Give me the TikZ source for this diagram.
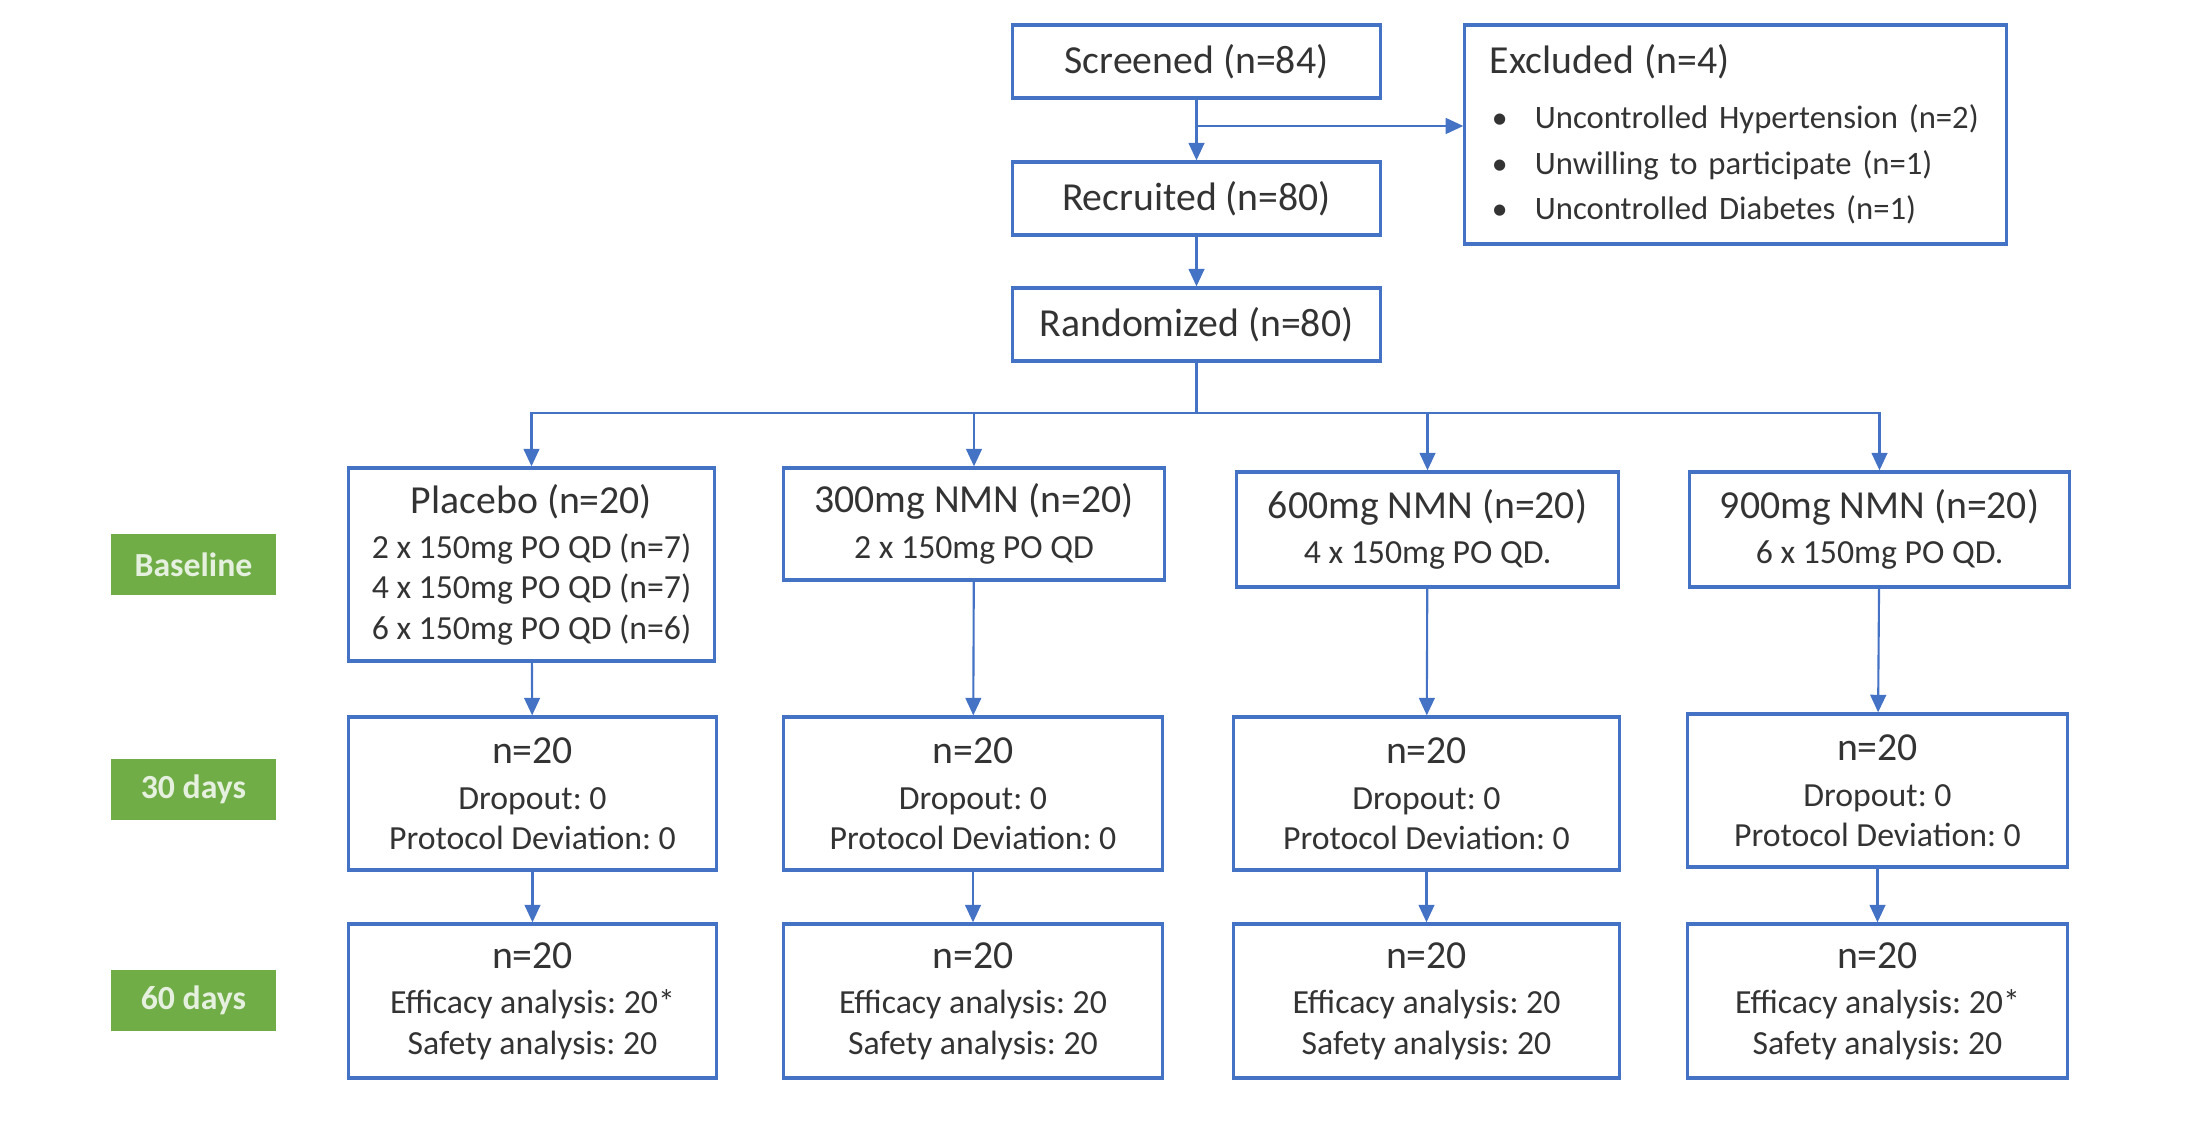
\documentclass[tikz,border=0pt]{standalone}
\usepackage{fontspec}
\setmainfont{Carlito}
\usetikzlibrary{arrows.meta}
\definecolor{boxblue}{HTML}{4472C4}
\definecolor{stagegreen}{HTML}{70AD47}
\definecolor{txtgray}{HTML}{333333}
\newcommand{\hd}{\fontsize{11.3}{13.5}\selectfont}
\newcommand{\sm}{\fontsize{9.6}{11.4}\selectfont}
\frenchspacing

\begin{document}
\begin{tikzpicture}[x=0.01cm,y=-0.01cm,
  box/.style={draw=boxblue,line width=0.9pt,text=txtgray,align=center,inner sep=0pt,font=\sm},
  stage/.style={fill=stagegreen,text=white!82!stagegreen,font=\sm\bfseries,minimum width=1.65cm,minimum height=0.61cm,inner sep=0pt},
  arr/.style={draw=boxblue,line width=0.6pt,-{Triangle[width=4.5pt,length=5pt]}},
  link/.style={draw=boxblue,line width=0.6pt}]
\useasboundingbox (0,0) rectangle (2196,1131);
% enrolment
\node[box,minimum width=3.67cm,minimum height=0.73cm,font=\hd] (scr) at (1196.5,61.5) {Screened (n=84)};
\node[box,minimum width=3.67cm,minimum height=0.73cm,font=\hd] (rec) at (1196.5,198.5) {Recruited (n=80)};
\node[box,minimum width=3.67cm,minimum height=0.73cm,font=\hd] (ran) at (1196.5,324.5) {Randomized (n=80)};
\node[box,minimum width=5.41cm,minimum height=2.19cm,text width=5.27cm,inner xsep=0.07cm,align=left,font=\fontsize{9.3}{13}\selectfont] (exc) at (1735.5,134.5)
  {\hspace{0.18cm}{\hd Excluded (n=4)}\\[2.5pt]
   \hspace{0.2cm}\makebox[0.43cm][l]{\small\textbullet}Uncontrolled Hypertension (n=2)\\
   \hspace{0.2cm}\makebox[0.43cm][l]{\small\textbullet}Unwilling to participate (n=1)\\
   \hspace{0.2cm}\makebox[0.43cm][l]{\small\textbullet}Uncontrolled Diabetes (n=1)};
\coordinate (brk) at (1196.5,126);
\coordinate (spl) at (1196.5,413);

% stages
\node[stage] (base) at (193.5,564.5) {Baseline};
\node[stage] (d30) at (193.5,789.5) {30 days};
\node[stage] (d60) at (193.5,1000.5) {60 days};

% baseline arms
\node[box,minimum width=3.65cm,minimum height=1.93cm] (pl1) at (531.5,564.5)
  {{\hd Placebo (n=20)}\\[1.6pt]2 x 150mg PO QD (n=7)\\4 x 150mg PO QD (n=7)\\6 x 150mg PO QD (n=6)};
\node[box,minimum width=3.80cm,minimum height=1.12cm] (m3a) at (974,524)
  {{\hd 300mg NMN (n=20)}\\[1.6pt]2 x 150mg PO QD};
\node[box,minimum width=3.81cm,minimum height=1.15cm] (m6a) at (1427.5,529.5)
  {{\hd 600mg NMN (n=20)}\\[1.6pt]4 x 150mg PO QD.};
\node[box,minimum width=3.79cm,minimum height=1.15cm] (m9a) at (1879.5,529.5)
  {{\hd 900mg NMN (n=20)}\\[1.6pt]6 x 150mg PO QD.};

% 30 days
\node[box,minimum width=3.67cm,minimum height=1.53cm] (pl2) at (532.5,793.5)
  {{\hd n=20}\\[1.6pt]Dropout: 0\\Protocol Deviation: 0};
\node[box,minimum width=3.78cm,minimum height=1.53cm] (m3b) at (973,793.5)
  {{\hd n=20}\\[1.6pt]Dropout: 0\\Protocol Deviation: 0};
\node[box,minimum width=3.85cm,minimum height=1.53cm] (m6b) at (1426.5,793.5)
  {{\hd n=20}\\[1.6pt]Dropout: 0\\Protocol Deviation: 0};
\node[box,minimum width=3.79cm,minimum height=1.53cm] (m9b) at (1877.5,790.5)
  {{\hd n=20}\\[1.6pt]Dropout: 0\\Protocol Deviation: 0};

% 60 days
\node[box,minimum width=3.67cm,minimum height=1.54cm] (pl3) at (532.5,1001)
  {{\hd n=20}\\[1.6pt]Efficacy analysis: 20*\\Safety analysis: 20};
\node[box,minimum width=3.78cm,minimum height=1.54cm] (m3c) at (973,1001)
  {{\hd n=20}\\[1.6pt]Efficacy analysis: 20\\Safety analysis: 20};
\node[box,minimum width=3.85cm,minimum height=1.54cm] (m6c) at (1426.5,1001)
  {{\hd n=20}\\[1.6pt]Efficacy analysis: 20\\Safety analysis: 20};
\node[box,minimum width=3.79cm,minimum height=1.54cm] (m9c) at (1877.5,1001)
  {{\hd n=20}\\[1.6pt]Efficacy analysis: 20*\\Safety analysis: 20};

% connectors
\draw[arr] (scr) -- (rec);
\draw[arr] (brk) -- (brk -| exc.west);
\draw[arr] (rec) -- (ran);
\draw[link] (ran) -- (spl);
\draw[arr] (spl) -| (pl1);
\draw[arr] (spl) -| (m3a);
\draw[arr] (spl) -| (m6a);
\draw[arr] (spl) -| (m9a);
\draw[arr] (pl1) -- (pl2);
\draw[arr] (m3a) -- (m3b);
\draw[arr] (m6a) -- (m6b);
\draw[arr] (m9a) -- (m9b);
\draw[arr] (pl2) -- (pl3);
\draw[arr] (m3b) -- (m3c);
\draw[arr] (m6b) -- (m6c);
\draw[arr] (m9b) -- (m9c);
\end{tikzpicture}
\end{document}
